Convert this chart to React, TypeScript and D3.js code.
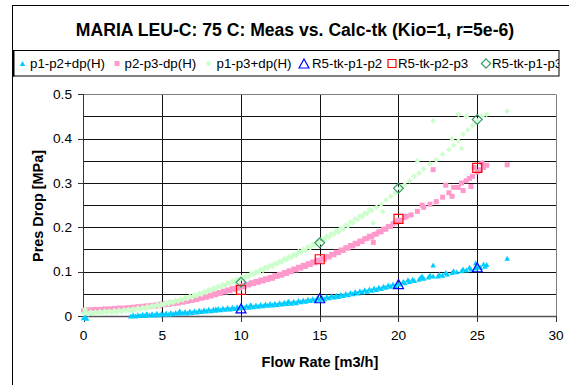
import React from "react";
import * as d3 from "d3";

const TITLE = "MARIA LEU-C: 75 C: Meas vs. Calc-tk (Kio=1, r=5e-6)";
const X_TICKS = [0, 5, 10, 15, 20, 25, 30];
const Y_TICKS = [0, 0.1, 0.2, 0.3, 0.4, 0.5];
const Y_GRID = [0.05, 0.1, 0.15, 0.2, 0.25, 0.3, 0.35, 0.4, 0.45];

// measured p1-p2+dp(H)
const measP1P2: [number, number][] = [
  [0.0, -0.004], [0.1, -0.002], [0.2, -0.005], [3.0, 0.0], [3.3, 0.0], [3.6, 0.001], [3.9, 0.001],
  [4.0, 0.005], [4.2, 0.002], [4.5, 0.002], [4.8, 0.003], [5.1, 0.004], [5.4, 0.004], [5.7, 0.005],
  [6.0, 0.006], [6.1, 0.011], [6.3, 0.007], [6.6, 0.007], [6.9, 0.008], [7.2, 0.009], [7.5, 0.01],
  [7.8, 0.011], [8.1, 0.012], [8.4, 0.016], [8.4, 0.013], [8.7, 0.014], [9.0, 0.015], [9.3, 0.016],
  [9.6, 0.017], [9.9, 0.018], [10.2, 0.019], [10.5, 0.02], [10.6, 0.025], [10.8, 0.021], [11.1, 0.022],
  [11.4, 0.023], [11.7, 0.024], [12.0, 0.025], [12.3, 0.026], [12.6, 0.027], [12.9, 0.028],
  [13.0, 0.033], [13.2, 0.029], [13.5, 0.03], [13.8, 0.032], [14.1, 0.033], [14.4, 0.035],
  [14.7, 0.036], [15.0, 0.038], [15.3, 0.039], [15.6, 0.041], [15.9, 0.043], [16.2, 0.044],
  [16.5, 0.046], [16.8, 0.048], [17.1, 0.05], [17.4, 0.052], [17.7, 0.054], [18.0, 0.056],
  [18.3, 0.058], [18.6, 0.06], [18.9, 0.062], [19.2, 0.065], [19.5, 0.067], [19.8, 0.069],
  [20.1, 0.072], [20.4, 0.075], [20.6, 0.082], [20.7, 0.078], [21.0, 0.08], [21.3, 0.083],
  [21.5, 0.09], [21.6, 0.085], [21.9, 0.088], [22.2, 0.09], [22.2, 0.115], [22.5, 0.09],
  [22.8, 0.092], [23.1, 0.095], [23.4, 0.098], [23.7, 0.1], [24.0, 0.102], [24.3, 0.104],
  [24.6, 0.106], [24.9, 0.108], [24.9, 0.12], [25.2, 0.11], [25.5, 0.112], [25.6, 0.116], [26.9, 0.13],
];
const measP1P2b: [number, number][] = [
  [3.15, 0.003], [3.45, 0.003], [3.75, 0.004], [4.05, 0.004], [4.35, 0.005], [4.65, 0.006], [4.95, 0.006],
  [5.25, 0.007], [5.55, 0.008], [5.85, 0.008], [6.15, 0.009], [6.45, 0.01], [6.75, 0.011], [7.05, 0.012],
  [7.35, 0.013], [7.65, 0.014], [7.95, 0.015], [8.25, 0.016], [8.55, 0.017], [8.85, 0.018], [9.15, 0.019],
  [9.45, 0.02], [9.75, 0.021], [10.05, 0.022], [10.35, 0.023], [10.65, 0.024], [10.95, 0.025],
  [11.25, 0.026], [11.55, 0.027], [11.85, 0.028], [12.15, 0.029], [12.45, 0.03], [12.75, 0.031],
  [13.05, 0.032], [13.35, 0.033], [13.65, 0.035], [13.95, 0.036], [14.25, 0.038], [14.55, 0.039],
  [14.85, 0.041], [15.15, 0.042], [15.45, 0.044], [15.75, 0.046], [16.05, 0.047], [16.35, 0.049],
  [16.65, 0.051], [16.95, 0.053], [17.25, 0.055], [17.55, 0.057], [17.85, 0.059], [18.15, 0.061],
  [18.45, 0.063], [18.75, 0.065], [19.05, 0.067], [19.35, 0.07], [19.65, 0.072], [19.95, 0.074],
  [20.3, 0.078], [20.9, 0.083], [21.4, 0.087], [22.0, 0.092], [22.6, 0.094], [23.0, 0.098],
  [23.5, 0.102], [24.1, 0.106], [24.5, 0.11], [25.0, 0.113], [25.4, 0.117],
];

// measured p2-p3-dp(H)
const measP2P3: [number, number][] = [
  [0.0, 0.012], [0.3, 0.011], [0.6, 0.012], [0.9, 0.013], [1.2, 0.013], [1.5, 0.014], [1.8, 0.014],
  [2.1, 0.015], [2.4, 0.016], [2.7, 0.016], [3.0, 0.017], [3.3, 0.018], [3.6, 0.019], [3.9, 0.02],
  [4.2, 0.021], [4.5, 0.022], [4.8, 0.023], [5.1, 0.025], [5.4, 0.026], [5.7, 0.028], [6.0, 0.029],
  [6.3, 0.031], [6.6, 0.033], [6.9, 0.035], [7.2, 0.037], [7.5, 0.04], [7.8, 0.042], [8.1, 0.045],
  [8.4, 0.048], [8.7, 0.051], [9.0, 0.054], [9.3, 0.057], [9.6, 0.06], [9.9, 0.063], [10.2, 0.066],
  [10.5, 0.07], [10.8, 0.073], [11.1, 0.076], [11.4, 0.079], [11.7, 0.082], [12.0, 0.085],
  [12.3, 0.089], [12.6, 0.092], [12.9, 0.096], [13.2, 0.1], [13.5, 0.104], [13.8, 0.108],
  [14.1, 0.112], [14.4, 0.116], [14.7, 0.12], [15.0, 0.124], [15.3, 0.128], [15.6, 0.133],
  [15.9, 0.138], [16.2, 0.143], [16.5, 0.148], [16.8, 0.153], [17.1, 0.158], [17.3, 0.163],
  [17.4, 0.163], [17.7, 0.168], [18.0, 0.175], [18.3, 0.178], [18.4, 0.166], [18.6, 0.185],
  [18.9, 0.19], [19.2, 0.196], [19.5, 0.202], [19.8, 0.21], [20.1, 0.216], [20.4, 0.222],
  [20.5, 0.225], [20.8, 0.228], [21.2, 0.236], [21.5, 0.25], [21.6, 0.245], [22.0, 0.252],
  [22.2, 0.33], [22.4, 0.258], [22.8, 0.268], [23.0, 0.295], [23.2, 0.278], [23.4, 0.27],
  [23.5, 0.29], [23.8, 0.29], [24.0, 0.3], [24.1, 0.283], [24.3, 0.305], [24.5, 0.31],
  [24.6, 0.292], [24.7, 0.315], [24.8, 0.335], [25.0, 0.325], [25.2, 0.33], [25.3, 0.345],
  [25.4, 0.335], [25.6, 0.34], [26.9, 0.341],
];
const measP2P3b: [number, number][] = [
  [0.15, 0.014], [0.45, 0.014], [0.75, 0.015], [1.05, 0.015], [1.35, 0.016], [1.65, 0.016], [1.95, 0.017],
  [2.25, 0.018], [2.55, 0.018], [2.85, 0.019], [3.15, 0.02], [3.45, 0.021], [3.75, 0.022], [4.05, 0.023],
  [4.35, 0.024], [4.65, 0.025], [4.95, 0.027], [5.25, 0.028], [5.55, 0.03], [5.85, 0.031], [6.15, 0.033],
  [6.45, 0.035], [6.75, 0.037], [7.05, 0.039], [7.35, 0.042], [7.65, 0.044], [7.95, 0.047], [8.25, 0.05],
  [8.55, 0.053], [8.85, 0.056], [9.15, 0.059], [9.45, 0.062], [9.75, 0.065], [10.05, 0.068],
  [10.35, 0.071], [10.65, 0.075], [10.95, 0.078], [11.25, 0.081], [11.55, 0.084], [11.85, 0.087],
  [12.15, 0.091], [12.45, 0.094], [12.75, 0.098], [13.05, 0.102], [13.35, 0.106], [13.65, 0.11],
  [13.95, 0.114], [14.25, 0.118], [14.55, 0.122], [14.85, 0.126], [15.15, 0.13], [15.45, 0.134],
  [15.75, 0.139], [16.05, 0.144], [16.35, 0.149], [16.65, 0.154], [16.95, 0.159], [17.25, 0.164],
  [17.55, 0.169], [17.85, 0.174], [18.15, 0.18], [18.45, 0.184], [18.75, 0.19], [19.05, 0.196],
  [19.35, 0.202], [19.65, 0.208], [19.95, 0.215],
];

// measured p1-p3+dp(H)
const measP1P3: [number, number][] = [
  [0.0, 0.006], [0.1, 0.015], [0.3, 0.005], [0.6, 0.006], [0.9, 0.006], [1.2, 0.007], [1.5, 0.008],
  [1.8, 0.008], [2.1, 0.009], [2.4, 0.01], [2.7, 0.011], [3.0, 0.012], [3.3, 0.014], [3.6, 0.015],
  [3.9, 0.017], [4.2, 0.019], [4.5, 0.021], [4.8, 0.023], [5.1, 0.025], [5.4, 0.028], [5.7, 0.03],
  [6.0, 0.033], [6.3, 0.036], [6.6, 0.039], [6.9, 0.042], [7.2, 0.046], [7.5, 0.049], [7.8, 0.053],
  [8.1, 0.057], [8.4, 0.061], [8.7, 0.065], [9.0, 0.069], [9.3, 0.073], [9.6, 0.077], [9.9, 0.081],
  [10.2, 0.085], [10.5, 0.089], [10.8, 0.094], [11.1, 0.098], [11.4, 0.103], [11.7, 0.108],
  [12.0, 0.112], [12.3, 0.117], [12.6, 0.122], [12.9, 0.127], [13.2, 0.132], [13.5, 0.137],
  [13.8, 0.143], [14.1, 0.148], [14.4, 0.154], [14.7, 0.16], [15.0, 0.166], [15.3, 0.172],
  [15.6, 0.178], [15.9, 0.184], [16.2, 0.19], [16.5, 0.196], [16.8, 0.203], [17.1, 0.21],
  [17.4, 0.217], [17.7, 0.224], [18.0, 0.231], [18.3, 0.238], [18.4, 0.21], [18.6, 0.245],
  [18.9, 0.252], [19.0, 0.235], [19.2, 0.262], [19.5, 0.27], [19.8, 0.278], [20.1, 0.288],
  [20.4, 0.296], [20.7, 0.305], [21.0, 0.315], [21.2, 0.35], [21.3, 0.322], [21.6, 0.332],
  [22.0, 0.343], [22.2, 0.44], [22.4, 0.352], [22.8, 0.365], [23.2, 0.375], [23.4, 0.4],
  [23.5, 0.385], [23.8, 0.395], [23.8, 0.455], [24.0, 0.378], [24.1, 0.41], [24.3, 0.45],
  [24.4, 0.42], [24.7, 0.43], [25.0, 0.44], [25.3, 0.45], [25.6, 0.455], [26.9, 0.462],
];
const measP1P3b: [number, number][] = [
  [0.15, 0.009], [0.45, 0.009], [0.75, 0.009], [1.05, 0.01], [1.35, 0.011], [1.65, 0.011], [1.95, 0.012],
  [2.25, 0.013], [2.55, 0.014], [2.85, 0.015], [3.15, 0.016], [3.45, 0.018], [3.75, 0.019], [4.05, 0.021],
  [4.35, 0.023], [4.65, 0.025], [4.95, 0.027], [5.25, 0.03], [5.55, 0.032], [5.85, 0.035], [6.15, 0.038],
  [6.45, 0.041], [6.75, 0.044], [7.05, 0.048], [7.35, 0.051], [7.65, 0.055], [7.95, 0.059], [8.25, 0.063],
  [8.55, 0.067], [8.85, 0.071], [9.15, 0.075], [9.45, 0.079], [9.75, 0.083], [10.05, 0.087],
  [10.35, 0.091], [10.65, 0.096], [10.95, 0.1], [11.25, 0.105], [11.55, 0.11], [11.85, 0.115],
  [12.15, 0.119], [12.45, 0.124], [12.75, 0.129], [13.05, 0.134], [13.35, 0.139], [13.65, 0.145],
  [13.95, 0.15], [14.25, 0.156], [14.55, 0.162], [14.85, 0.168], [15.15, 0.174], [15.45, 0.18],
  [15.75, 0.186], [16.05, 0.192], [16.35, 0.198], [16.65, 0.205], [16.95, 0.212], [17.25, 0.219],
  [17.55, 0.226], [17.85, 0.232], [18.15, 0.24],
];

// calculated
const calcFlows = [10, 15, 20, 25];
const calcP1P2 = [0.017, 0.04, 0.072, 0.11];
const calcP2P3 = [0.059, 0.128, 0.219, 0.334];
const calcP1P3 = [0.076, 0.165, 0.288, 0.443];

const LEGEND = [
  { label: "p1-p2+dp(H)", shape: "tri", fill: "#00CCFF", stroke: "none", size: 5, mx: 22.5, tx: 30 },
  { label: "p2-p3-dp(H)", shape: "sq", fill: "#FF99CC", stroke: "none", size: 5, mx: 117, tx: 124.5 },
  { label: "p1-p3+dp(H)", shape: "dia", fill: "#CCFFCC", stroke: "none", size: 5, mx: 208.5, tx: 216.5 },
  { label: "R5-tk-p1-p2", shape: "tri", fill: "none", stroke: "#0000FF", size: 9, mx: 304, tx: 312 },
  { label: "R5-tk-p2-p3", shape: "sq", fill: "none", stroke: "#FF0000", size: 8, mx: 392, tx: 398 },
  { label: "R5-tk-p1-p3", shape: "dia", fill: "none", stroke: "#339966", size: 8, mx: 486, tx: 492 },
];

function shapePath(shape: string, cx: number, cy: number, s: number): string {
  const h = s / 2;
  if (shape === "tri") return `M${cx},${cy - h}L${cx + h * 1.1},${cy + h}L${cx - h * 1.1},${cy + h}Z`;
  if (shape === "sq") return `M${cx - h},${cy - h}H${cx + h}V${cy + h}H${cx - h}Z`;
  return `M${cx},${cy - h * 1.15}L${cx + h * 1.15},${cy}L${cx},${cy + h * 1.15}L${cx - h * 1.15},${cy}Z`;
}

export default function App() {
  const W = 569, H = 385;
  const x = d3.scaleLinear().domain([0, 30]).range([83.5, 556]);
  const y = d3.scaleLinear().domain([0, 0.5]).range([316, 94.3]);
  const font = "Arial, 'Liberation Sans', sans-serif";

  const measured = [
    { data: measP1P2.concat(measP1P2b), shape: "tri", fill: "#00CCFF" },
    { data: measP2P3.concat(measP2P3b), shape: "sq", fill: "#FF99CC" },
    { data: measP1P3.concat(measP1P3b), shape: "dia", fill: "#CCFFCC" },
  ];
  const calc = [
    { data: calcP1P2, shape: "tri", stroke: "#0000FF", size: 9 },
    { data: calcP2P3, shape: "sq", stroke: "#FF0000", size: 9 },
    { data: calcP1P3, shape: "dia", stroke: "#339966", size: 8.5 },
  ];

  return (
    <svg width={W} height={H} style={{ position: "absolute", left: 0, top: 0, background: "#fff" }}>
      <defs>
        <clipPath id="legclip">
          <rect x={13} y={50} width={546} height={26} />
        </clipPath>
      </defs>
      <rect x={0} y={0} width={W} height={H} fill="#fff" />
      <rect x={12.5} y={5.5} width={620} height={420} fill="none" stroke="#000" strokeWidth={1} />
      <text x={295} y={36} textAnchor="middle" fontFamily={font} fontWeight="bold" fontSize={17.6} fill="#000">
        {TITLE}
      </text>
      <rect x={13.5} y={50.5} width={545.5} height={25.5} fill="#fff" stroke="#000" strokeWidth={1} />
      <line x1={13.5} y1={50} x2={13.5} y2={76.5} stroke="#000" strokeWidth={2} />
      <g clipPath="url(#legclip)">
        {LEGEND.map((l) => (
          <g key={l.label}>
            <path d={shapePath(l.shape, l.mx, 63.5, l.size)} fill={l.fill} stroke={l.stroke} strokeWidth={1.2} />
            <text x={l.tx} y={68} fontFamily={font} fontSize={13.3} fill="#000">{l.label}</text>
          </g>
        ))}
      </g>
      {Y_GRID.map((v) => (
        <line key={"hg" + v} x1={x(0)} x2={x(30)} y1={Math.round(y(v)) + 0.5} y2={Math.round(y(v)) + 0.5} stroke="#111" strokeWidth={1} />
      ))}
      {X_TICKS.filter((v) => v > 0 && v < 30).map((v) => (
        <line key={"vg" + v} x1={Math.round(x(v)) + 0.5} x2={Math.round(x(v)) + 0.5} y1={y(0.5)} y2={y(0)} stroke="#111" strokeWidth={1} />
      ))}
      <line x1={x(0)} x2={x(30)} y1={94.5} y2={94.5} stroke="#808080" />
      <line x1={556.5} x2={556.5} y1={94.5} y2={316} stroke="#808080" />
      <line x1={83.5} x2={83.5} y1={94} y2={317} stroke="#333" strokeWidth={1} />
      <line x1={83} x2={557} y1={316.5} y2={316.5} stroke="#555" strokeWidth={1.5} />
      {Y_TICKS.map((v) => (
        <g key={"yt" + v}>
          <line x1={78} x2={83.5} y1={Math.round(y(v)) + 0.5} y2={Math.round(y(v)) + 0.5} stroke="#333" />
          <text x={72} y={y(v) + 4.8} textAnchor="end" fontFamily={font} fontSize={13.7} fill="#000">{v === 0 ? "0" : String(v)}</text>
        </g>
      ))}
      {X_TICKS.map((v) => (
        <g key={"xt" + v}>
          <line x1={Math.round(x(v)) + 0.5} x2={Math.round(x(v)) + 0.5} y1={316} y2={322} stroke="#333" />
          <text x={x(v)} y={340} textAnchor="middle" fontFamily={font} fontSize={13.7} fill="#000">{v}</text>
        </g>
      ))}
      <text x={320} y={367} textAnchor="middle" fontFamily={font} fontWeight="bold" fontSize={14.6} fill="#000">Flow Rate [m3/h]</text>
      <text transform={`translate(42.5,206) rotate(-90)`} textAnchor="middle" fontFamily={font} fontWeight="bold" fontSize={14.4} fill="#000">Pres Drop [MPa]</text>
      {measured.map((s, i) => (
        <g key={"m" + i}>
          {s.data.map(([fx, p], j) => (
            <path key={j} d={shapePath(s.shape, x(fx), y(p), 5)} fill={s.fill} stroke="none" />
          ))}
        </g>
      ))}
      {calc.map((s, i) => (
        <g key={"c" + i}>
          {s.data.map((p, j) => (
            <path key={j} d={shapePath(s.shape, x(calcFlows[j]), y(p), s.size)} fill="none" stroke={s.stroke} strokeWidth={1.2} />
          ))}
        </g>
      ))}
    </svg>
  );
}
